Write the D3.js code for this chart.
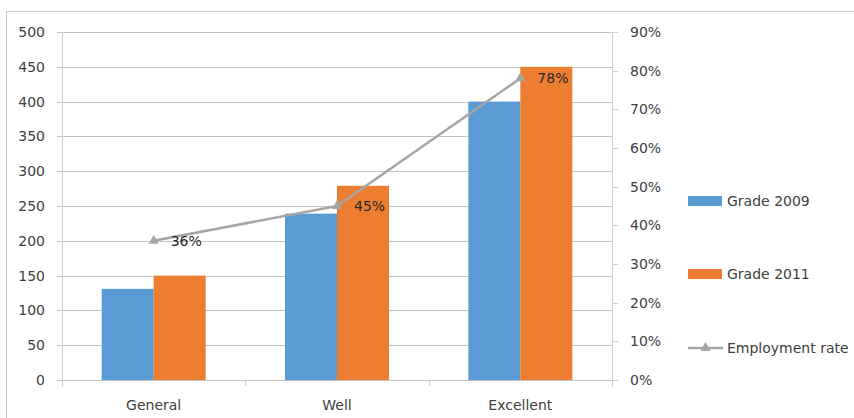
<!DOCTYPE html>
<html><head><meta charset="utf-8">
<script src="https://cdn.jsdelivr.net/npm/d3@7"></script>
<style>
html,body{margin:0;padding:0;background:#fff;}
svg text{font-family:"DejaVu Sans",sans-serif;font-size:14px;fill:#404040;}
</style></head>
<body><svg id="c" width="854" height="418"></svg>
<script>
const categories = ["General", "Well", "Excellent"];
const grade2009 = [131, 239, 400];
const grade2011 = [150, 279, 450];
const employmentRate = [0.36, 0.45, 0.78];
const leftTicks = [0, 50, 100, 150, 200, 250, 300, 350, 400, 450, 500];
const rightTicks = [0, 0.1, 0.2, 0.3, 0.4, 0.5, 0.6, 0.7, 0.8, 0.9];
const seriesNames = ["Grade 2009", "Grade 2011", "Employment rate"];
const colors = ["#5B9BD5", "#ED7D31", "#A5A5A5"];

const svg = d3.select("#c");
const L = 62, R = 612, T = 32, B = 380;

// frame
svg.append("rect").attr("x", 6.5).attr("y", 11.5).attr("width", 860).attr("height", 420)
  .attr("fill", "none").attr("stroke", "#C8C8C8");

const x = d3.scaleBand().domain(categories).range([L, R]);
const yL = d3.scaleLinear().domain([0, 500]).range([B, T]);
const yR = d3.scaleLinear().domain([0, 0.9]).range([B, T]);

// gridlines
svg.append("g").selectAll("line").data(leftTicks).join("line")
  .attr("x1", L - 5).attr("x2", R)
  .attr("y1", d => Math.round(yL(d)) + 0.5).attr("y2", d => Math.round(yL(d)) + 0.5)
  .attr("stroke", "#C4C4C4").attr("stroke-width", 1);

// left axis labels
svg.append("g").selectAll("text").data(leftTicks).join("text")
  .attr("x", 45).attr("y", d => yL(d)).attr("dy", "0.36em")
  .attr("text-anchor", "end").text(d => d);

// left axis line
svg.append("line").attr("x1", L + 0.5).attr("x2", L + 0.5).attr("y1", T).attr("y2", B + 7)
  .attr("stroke", "#D0D0D0");

// right axis line and ticks
svg.append("line").attr("x1", R + 0.5).attr("x2", R + 0.5).attr("y1", T).attr("y2", B + 7)
  .attr("stroke", "#D0D0D0");
svg.append("g").selectAll("line").data(rightTicks).join("line")
  .attr("x1", R).attr("x2", R + 6)
  .attr("y1", d => Math.round(yR(d)) + 0.5).attr("y2", d => Math.round(yR(d)) + 0.5)
  .attr("stroke", "#D0D0D0");
svg.append("g").selectAll("text").data(rightTicks).join("text")
  .attr("x", 630).attr("y", d => yR(d)).attr("dy", "0.36em")
  .text(d => d3.format(".0%")(d));

// bottom axis
svg.append("line").attr("x1", L).attr("x2", R).attr("y1", B + 0.5).attr("y2", B + 0.5)
  .attr("stroke", "#C4C4C4");
svg.append("g").selectAll("line").data(categories.slice(1)).join("line")
  .attr("x1", d => Math.round(x(d)) + 0.5).attr("x2", d => Math.round(x(d)) + 0.5)
  .attr("y1", B).attr("y2", B + 6).attr("stroke", "#D0D0D0");
svg.append("g").selectAll("text").data(categories).join("text")
  .attr("x", d => x(d) + x.bandwidth() / 2).attr("y", 410)
  .attr("text-anchor", "middle").text(d => d);

// bars
const barW = 52;
const xs = d3.scaleBand().domain([0, 1]).range([0, barW * 2]);
[grade2009, grade2011].forEach((vals, si) => {
  svg.append("g").selectAll("rect").data(vals).join("rect")
    .attr("x", (d, i) => x(categories[i]) + x.bandwidth() / 2 - barW + xs(si))
    .attr("width", xs.bandwidth())
    .attr("y", d => yL(d)).attr("height", d => B - yL(d))
    .attr("fill", colors[si]);
});

// line
const pts = employmentRate.map((v, i) => [x(categories[i]) + x.bandwidth() / 2, yR(v)]);
svg.append("path").datum(pts).attr("d", d3.line())
  .attr("fill", "none").attr("stroke", colors[2]).attr("stroke-width", 2.5)
  .attr("stroke-linejoin", "round");
const tri = d3.symbol().type(d3.symbolTriangle).size(45);
svg.append("g").selectAll("path").data(pts).join("path")
  .attr("d", tri).attr("transform", d => `translate(${d[0]},${d[1]})`)
  .attr("fill", colors[2]);
svg.append("g").selectAll("text").data(employmentRate).join("text")
  .attr("x", (d, i) => pts[i][0] + 17).attr("y", (d, i) => pts[i][1]).attr("dy", "0.36em")
  .style("fill", "#262626")
  .text(d => d3.format(".0%")(d));

// legend
const legY = [201, 274, 348];
const lg = svg.append("g");
[0, 1].forEach(i => {
  lg.append("rect").attr("x", 688).attr("y", legY[i] - 5).attr("width", 34).attr("height", 10)
    .attr("fill", colors[i]);
});
lg.append("line").attr("x1", 688).attr("x2", 723).attr("y1", legY[2]).attr("y2", legY[2])
  .attr("stroke", colors[2]).attr("stroke-width", 2.5);
lg.append("path").attr("d", tri).attr("transform", `translate(705.5,${legY[2]})`).attr("fill", colors[2]);
seriesNames.forEach((n, i) => {
  lg.append("text").attr("x", 727).attr("y", legY[i]).attr("dy", "0.36em").text(n);
});
</script></body></html>
